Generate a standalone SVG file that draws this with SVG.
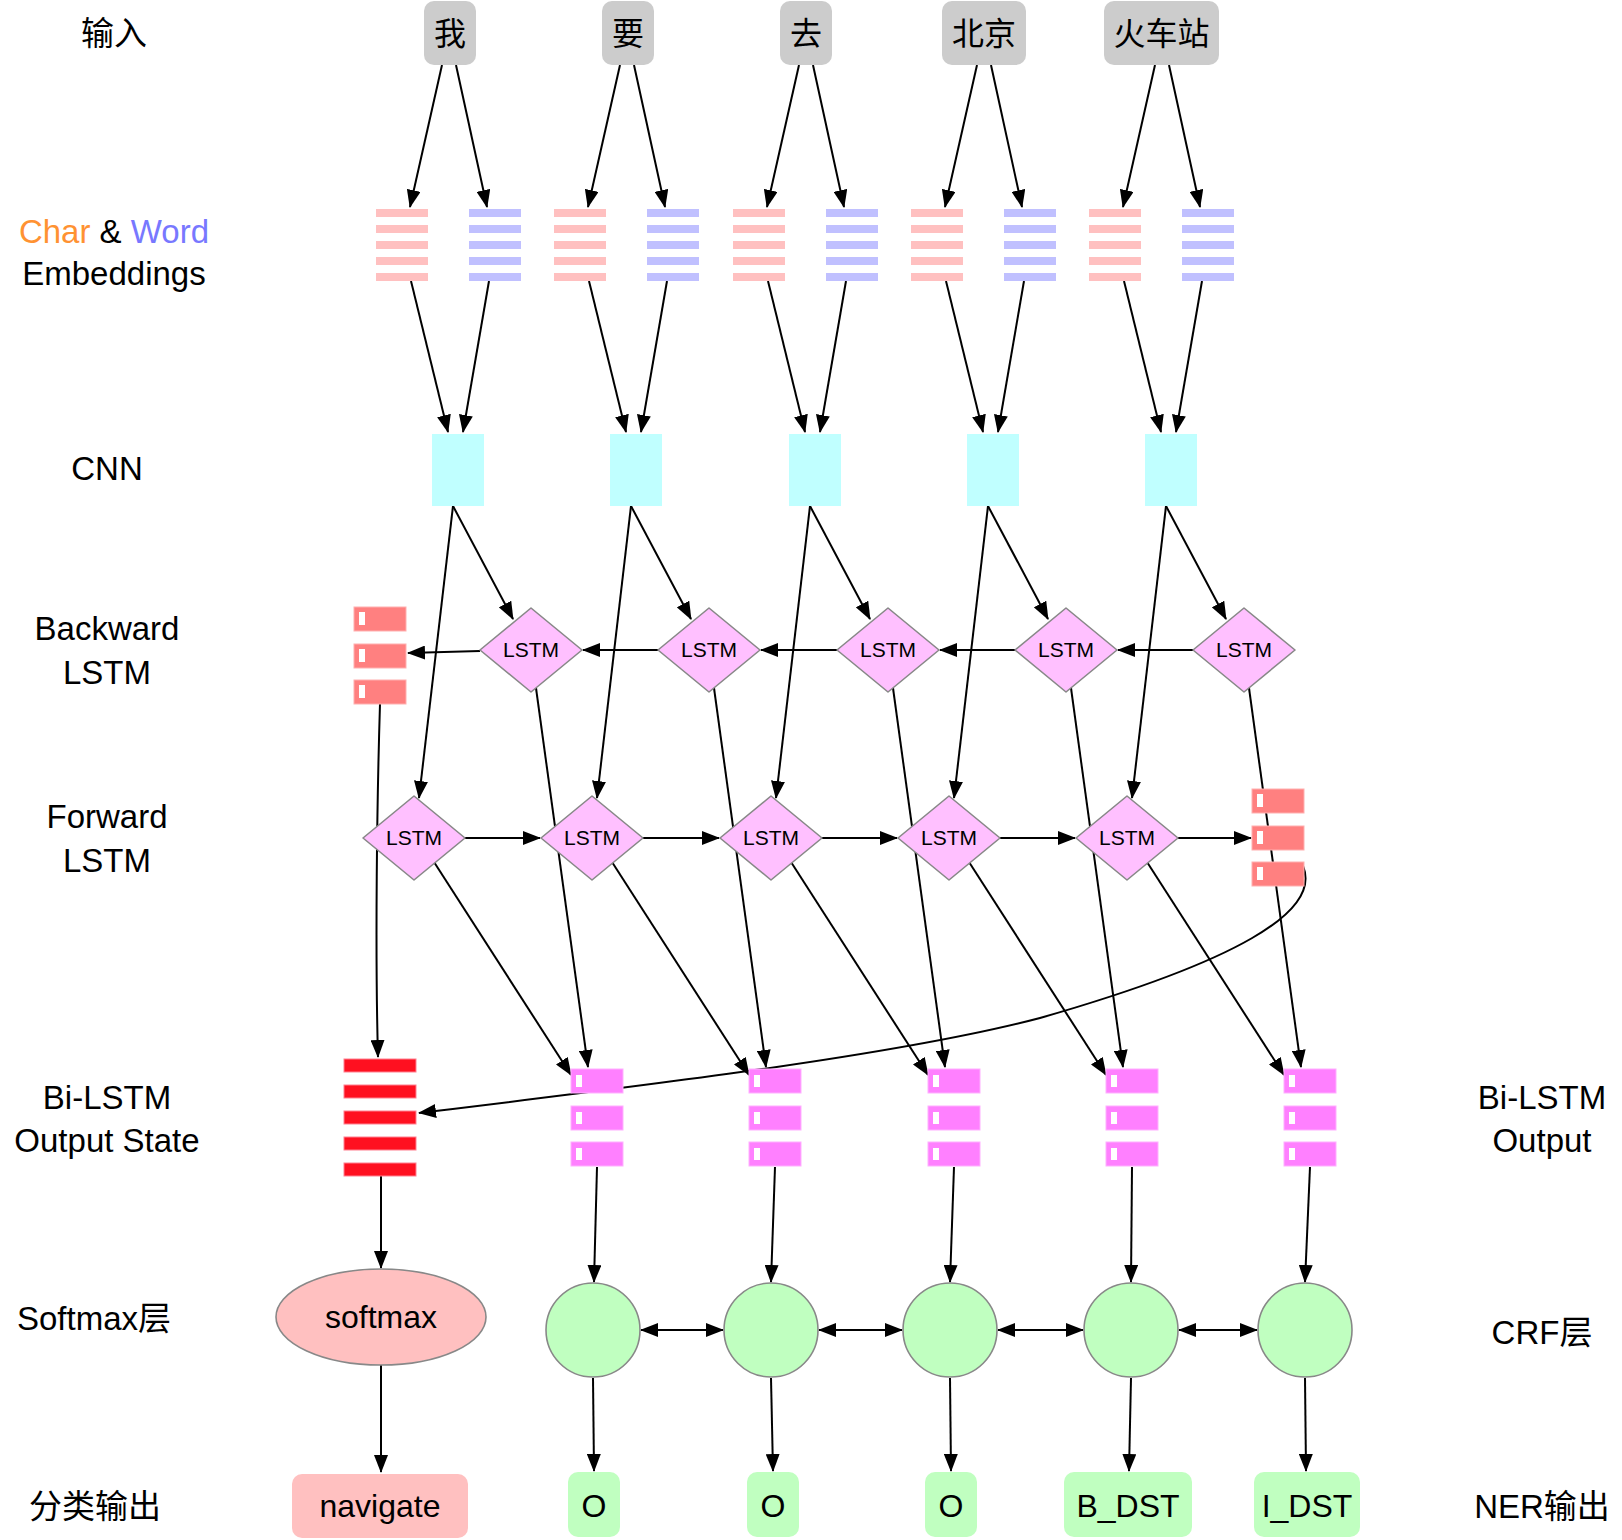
<svg xmlns="http://www.w3.org/2000/svg" width="1622" height="1540" viewBox="0 0 1622 1540">
<style>
text{font-family:"Liberation Sans","Noto Sans CJK SC",sans-serif;fill:#000}
.lbl{font-size:33px;text-anchor:middle}
.tk{font-size:32px;text-anchor:middle}
.ls{font-size:21px;text-anchor:middle}
.top{fill:#cccccc}
.ep{fill:#ffc0c0}
.eb{fill:#c0c0ff}
.cnn{fill:#c0ffff}
.dia{fill:#ffc0ff;stroke:#888;stroke-width:1.6;stroke-linejoin:round}
.rb{fill:#ff8080;stroke:#ffb0b0;stroke-width:1}
.mb{fill:#ff80ff;stroke:#ffb0ff;stroke-width:1}
.sb{fill:#ff1020;stroke:#ff8090;stroke-width:1}
.wt{fill:#fff}
.crf{fill:#c0ffc0;stroke:#888;stroke-width:1.6}
.sm{fill:#ffc0c0;stroke:#888;stroke-width:1.6}
.ob{fill:#c0ffc0}
.nb{fill:#ffc0c0}
.c line,.c path{stroke:#000;stroke-width:2;fill:none;marker-end:url(#ah)}
.c .dbl{marker-start:url(#ah)}
</style>
<defs>
<marker id="ah" markerUnits="userSpaceOnUse" markerWidth="18" markerHeight="14" viewBox="0 0 18 14" refX="17" refY="7" orient="auto-start-reverse"><path d="M0,0 L18,7 L0,14 z" fill="#000"/></marker>
</defs>

<g id="labels">
<text class="lbl" x="114" y="45">输入</text>
<text class="lbl" x="114" y="243"><tspan fill="#ff9232">Char</tspan> &amp; <tspan fill="#7878ff">Word</tspan></text>
<text class="lbl" x="114" y="285">Embeddings</text>
<text class="lbl" x="107" y="480">CNN</text>
<text class="lbl" x="107" y="640">Backward</text>
<text class="lbl" x="107" y="684">LSTM</text>
<text class="lbl" x="107" y="828">Forward</text>
<text class="lbl" x="107" y="872">LSTM</text>
<text class="lbl" x="107" y="1109">Bi-LSTM</text>
<text class="lbl" x="107" y="1152">Output State</text>
<text class="lbl" x="94" y="1330">Softmax层</text>
<text class="lbl" x="95" y="1518">分类输出</text>
<text class="lbl" x="1542" y="1109">Bi-LSTM</text>
<text class="lbl" x="1542" y="1152">Output</text>
<text class="lbl" x="1542" y="1344">CRF层</text>
<text class="lbl" x="1542" y="1518">NER输出</text>
</g>

<g id="connectors" class="c">
<line x1="442" y1="65" x2="410" y2="207"/><line x1="456" y1="65" x2="487" y2="207"/>
<line x1="620" y1="65" x2="588" y2="207"/><line x1="634" y1="65" x2="665" y2="207"/>
<line x1="799" y1="65" x2="767" y2="207"/><line x1="813" y1="65" x2="844" y2="207"/>
<line x1="977" y1="65" x2="945" y2="207"/><line x1="991" y1="65" x2="1022" y2="207"/>
<line x1="1155" y1="65" x2="1123" y2="207"/><line x1="1169" y1="65" x2="1200" y2="207"/>

<line x1="411" y1="281" x2="448" y2="432"/><line x1="489" y1="281" x2="463" y2="432"/>
<line x1="589" y1="281" x2="626" y2="432"/><line x1="667" y1="281" x2="641" y2="432"/>
<line x1="768" y1="281" x2="805" y2="432"/><line x1="846" y1="281" x2="820" y2="432"/>
<line x1="946" y1="281" x2="983" y2="432"/><line x1="1024" y1="281" x2="998" y2="432"/>
<line x1="1124" y1="281" x2="1161" y2="432"/><line x1="1202" y1="281" x2="1176" y2="432"/>

<line x1="453" y1="506" x2="513" y2="619"/><line x1="453" y1="506" x2="419" y2="798"/>
<line x1="631" y1="506" x2="691" y2="619"/><line x1="631" y1="506" x2="597" y2="798"/>
<line x1="810" y1="506" x2="870" y2="619"/><line x1="810" y1="506" x2="776" y2="798"/>
<line x1="988" y1="506" x2="1048" y2="619"/><line x1="988" y1="506" x2="954" y2="798"/>
<line x1="1166" y1="506" x2="1226" y2="619"/><line x1="1166" y1="506" x2="1132" y2="798"/>

<line x1="658" y1="650" x2="583" y2="650"/>
<line x1="837" y1="650" x2="761" y2="650"/>
<line x1="1015" y1="650" x2="940" y2="650"/>
<line x1="1193" y1="650" x2="1118" y2="650"/>
<line x1="480" y1="651" x2="408" y2="653"/>

<line x1="465" y1="838" x2="540" y2="838"/>
<line x1="643" y1="838" x2="719" y2="838"/>
<line x1="822" y1="838" x2="897" y2="838"/>
<line x1="1000" y1="838" x2="1075" y2="838"/>
<line x1="1178" y1="838" x2="1251" y2="838"/>

<line x1="434" y1="862" x2="571" y2="1075"/><line x1="536" y1="688" x2="588" y2="1067"/>
<line x1="612" y1="862" x2="749" y2="1075"/><line x1="714" y1="688" x2="766" y2="1067"/>
<line x1="791" y1="862" x2="928" y2="1075"/><line x1="893" y1="688" x2="945" y2="1067"/>
<line x1="969" y1="862" x2="1106" y2="1075"/><line x1="1071" y1="688" x2="1123" y2="1067"/>
<line x1="1147" y1="862" x2="1284" y2="1075"/><line x1="1249" y1="688" x2="1301" y2="1067"/>

<path d="M380,704 C377,800 375,950 378,1057"/>
<path d="M1303,866 C1322,912 1235,962 1040,1018 C900,1055 650,1085 419,1113"/>

<line x1="381" y1="1176" x2="381" y2="1268"/>
<line x1="381" y1="1365" x2="381" y2="1472"/>

<line x1="597" y1="1167" x2="594" y2="1282"/>
<line x1="775" y1="1167" x2="771" y2="1282"/>
<line x1="954" y1="1167" x2="950" y2="1282"/>
<line x1="1132" y1="1167" x2="1131" y2="1282"/>
<line x1="1310" y1="1167" x2="1305" y2="1282"/>

<line class="dbl" x1="641" y1="1330" x2="723" y2="1330"/>
<line class="dbl" x1="819" y1="1330" x2="902" y2="1330"/>
<line class="dbl" x1="998" y1="1330" x2="1083" y2="1330"/>
<line class="dbl" x1="1179" y1="1330" x2="1257" y2="1330"/>

<line x1="593" y1="1378" x2="594" y2="1471"/>
<line x1="771" y1="1378" x2="773" y2="1471"/>
<line x1="950" y1="1378" x2="951" y2="1471"/>
<line x1="1131" y1="1378" x2="1129" y2="1471"/>
<line x1="1305" y1="1378" x2="1306" y2="1471"/>
</g>

<g id="in-0"><rect class="top" x="424" y="1" width="52" height="64" rx="10"/><text class="tk" x="450" y="45">我</text></g>
<g id="in-1"><rect class="top" x="602" y="1" width="52" height="64" rx="10"/><text class="tk" x="628" y="45">要</text></g>
<g id="in-2"><rect class="top" x="780" y="1" width="52" height="64" rx="10"/><text class="tk" x="806" y="45">去</text></g>
<g id="in-3"><rect class="top" x="942" y="1" width="84" height="64" rx="10"/><text class="tk" x="984" y="45">北京</text></g>
<g id="in-4"><rect class="top" x="1104" y="1" width="115" height="64" rx="10"/><text class="tk" x="1161.5" y="45">火车站</text></g>

<g id="emb-char-0" class="ep"><rect x="376" y="209" width="52" height="8"/><rect x="376" y="225" width="52" height="8"/><rect x="376" y="241" width="52" height="8"/><rect x="376" y="257" width="52" height="8"/><rect x="376" y="273" width="52" height="8"/></g>
<g id="emb-word-0" class="eb"><rect x="469" y="209" width="52" height="8"/><rect x="469" y="225" width="52" height="8"/><rect x="469" y="241" width="52" height="8"/><rect x="469" y="257" width="52" height="8"/><rect x="469" y="273" width="52" height="8"/></g>
<g id="emb-char-1" class="ep"><rect x="554" y="209" width="52" height="8"/><rect x="554" y="225" width="52" height="8"/><rect x="554" y="241" width="52" height="8"/><rect x="554" y="257" width="52" height="8"/><rect x="554" y="273" width="52" height="8"/></g>
<g id="emb-word-1" class="eb"><rect x="647" y="209" width="52" height="8"/><rect x="647" y="225" width="52" height="8"/><rect x="647" y="241" width="52" height="8"/><rect x="647" y="257" width="52" height="8"/><rect x="647" y="273" width="52" height="8"/></g>
<g id="emb-char-2" class="ep"><rect x="733" y="209" width="52" height="8"/><rect x="733" y="225" width="52" height="8"/><rect x="733" y="241" width="52" height="8"/><rect x="733" y="257" width="52" height="8"/><rect x="733" y="273" width="52" height="8"/></g>
<g id="emb-word-2" class="eb"><rect x="826" y="209" width="52" height="8"/><rect x="826" y="225" width="52" height="8"/><rect x="826" y="241" width="52" height="8"/><rect x="826" y="257" width="52" height="8"/><rect x="826" y="273" width="52" height="8"/></g>
<g id="emb-char-3" class="ep"><rect x="911" y="209" width="52" height="8"/><rect x="911" y="225" width="52" height="8"/><rect x="911" y="241" width="52" height="8"/><rect x="911" y="257" width="52" height="8"/><rect x="911" y="273" width="52" height="8"/></g>
<g id="emb-word-3" class="eb"><rect x="1004" y="209" width="52" height="8"/><rect x="1004" y="225" width="52" height="8"/><rect x="1004" y="241" width="52" height="8"/><rect x="1004" y="257" width="52" height="8"/><rect x="1004" y="273" width="52" height="8"/></g>
<g id="emb-char-4" class="ep"><rect x="1089" y="209" width="52" height="8"/><rect x="1089" y="225" width="52" height="8"/><rect x="1089" y="241" width="52" height="8"/><rect x="1089" y="257" width="52" height="8"/><rect x="1089" y="273" width="52" height="8"/></g>
<g id="emb-word-4" class="eb"><rect x="1182" y="209" width="52" height="8"/><rect x="1182" y="225" width="52" height="8"/><rect x="1182" y="241" width="52" height="8"/><rect x="1182" y="257" width="52" height="8"/><rect x="1182" y="273" width="52" height="8"/></g>

<g id="cnn-0"><rect class="cnn" x="432" y="434" width="52" height="72"/></g>
<g id="cnn-1"><rect class="cnn" x="610" y="434" width="52" height="72"/></g>
<g id="cnn-2"><rect class="cnn" x="789" y="434" width="52" height="72"/></g>
<g id="cnn-3"><rect class="cnn" x="967" y="434" width="52" height="72"/></g>
<g id="cnn-4"><rect class="cnn" x="1145" y="434" width="52" height="72"/></g>

<g id="bwd-0"><polygon class="dia" points="480,650 531,608 582,650 531,692"/><text class="ls" x="531" y="657">LSTM</text></g>
<g id="bwd-1"><polygon class="dia" points="658,650 709,608 760,650 709,692"/><text class="ls" x="709" y="657">LSTM</text></g>
<g id="bwd-2"><polygon class="dia" points="837,650 888,608 939,650 888,692"/><text class="ls" x="888" y="657">LSTM</text></g>
<g id="bwd-3"><polygon class="dia" points="1015,650 1066,608 1117,650 1066,692"/><text class="ls" x="1066" y="657">LSTM</text></g>
<g id="bwd-4"><polygon class="dia" points="1193,650 1244,608 1295,650 1244,692"/><text class="ls" x="1244" y="657">LSTM</text></g>

<g id="fwd-0"><polygon class="dia" points="363,838 414,796 465,838 414,880"/><text class="ls" x="414" y="845">LSTM</text></g>
<g id="fwd-1"><polygon class="dia" points="541,838 592,796 643,838 592,880"/><text class="ls" x="592" y="845">LSTM</text></g>
<g id="fwd-2"><polygon class="dia" points="720,838 771,796 822,838 771,880"/><text class="ls" x="771" y="845">LSTM</text></g>
<g id="fwd-3"><polygon class="dia" points="898,838 949,796 1000,838 949,880"/><text class="ls" x="949" y="845">LSTM</text></g>
<g id="fwd-4"><polygon class="dia" points="1076,838 1127,796 1178,838 1127,880"/><text class="ls" x="1127" y="845">LSTM</text></g>

<g id="bwd-out"><rect class="rb" x="354" y="607" width="52" height="24"/><rect class="wt" x="359" y="612" width="6" height="13"/><rect class="rb" x="354" y="644" width="52" height="24"/><rect class="wt" x="359" y="649" width="6" height="13"/><rect class="rb" x="354" y="680" width="52" height="24"/><rect class="wt" x="359" y="685" width="6" height="13"/></g>
<g id="fwd-out"><rect class="rb" x="1252" y="789" width="52" height="24"/><rect class="wt" x="1257" y="794" width="6" height="13"/><rect class="rb" x="1252" y="826" width="52" height="24"/><rect class="wt" x="1257" y="831" width="6" height="13"/><rect class="rb" x="1252" y="862" width="52" height="24"/><rect class="wt" x="1257" y="867" width="6" height="13"/></g>

<g id="state"><rect class="sb" x="344" y="1059" width="72" height="13"/><rect class="sb" x="344" y="1085" width="72" height="13"/><rect class="sb" x="344" y="1111" width="72" height="13"/><rect class="sb" x="344" y="1137" width="72" height="13"/><rect class="sb" x="344" y="1163" width="72" height="13"/></g>

<g id="bi-0"><rect class="mb" x="571" y="1069" width="52" height="24"/><rect class="wt" x="576" y="1075" width="6" height="12"/><rect class="mb" x="571" y="1106" width="52" height="24"/><rect class="wt" x="576" y="1112" width="6" height="12"/><rect class="mb" x="571" y="1142" width="52" height="24"/><rect class="wt" x="576" y="1148" width="6" height="12"/></g>
<g id="bi-1"><rect class="mb" x="749" y="1069" width="52" height="24"/><rect class="wt" x="754" y="1075" width="6" height="12"/><rect class="mb" x="749" y="1106" width="52" height="24"/><rect class="wt" x="754" y="1112" width="6" height="12"/><rect class="mb" x="749" y="1142" width="52" height="24"/><rect class="wt" x="754" y="1148" width="6" height="12"/></g>
<g id="bi-2"><rect class="mb" x="928" y="1069" width="52" height="24"/><rect class="wt" x="933" y="1075" width="6" height="12"/><rect class="mb" x="928" y="1106" width="52" height="24"/><rect class="wt" x="933" y="1112" width="6" height="12"/><rect class="mb" x="928" y="1142" width="52" height="24"/><rect class="wt" x="933" y="1148" width="6" height="12"/></g>
<g id="bi-3"><rect class="mb" x="1106" y="1069" width="52" height="24"/><rect class="wt" x="1111" y="1075" width="6" height="12"/><rect class="mb" x="1106" y="1106" width="52" height="24"/><rect class="wt" x="1111" y="1112" width="6" height="12"/><rect class="mb" x="1106" y="1142" width="52" height="24"/><rect class="wt" x="1111" y="1148" width="6" height="12"/></g>
<g id="bi-4"><rect class="mb" x="1284" y="1069" width="52" height="24"/><rect class="wt" x="1289" y="1075" width="6" height="12"/><rect class="mb" x="1284" y="1106" width="52" height="24"/><rect class="wt" x="1289" y="1112" width="6" height="12"/><rect class="mb" x="1284" y="1142" width="52" height="24"/><rect class="wt" x="1289" y="1148" width="6" height="12"/></g>

<g id="softmax"><ellipse class="sm" cx="381" cy="1317" rx="105" ry="48"/><text class="tk" x="381" y="1328">softmax</text></g>
<g id="crf-0"><circle class="crf" cx="593" cy="1330" r="47"/></g>
<g id="crf-1"><circle class="crf" cx="771" cy="1330" r="47"/></g>
<g id="crf-2"><circle class="crf" cx="950" cy="1330" r="47"/></g>
<g id="crf-3"><circle class="crf" cx="1131" cy="1330" r="47"/></g>
<g id="crf-4"><circle class="crf" cx="1305" cy="1330" r="47"/></g>

<g id="navigate"><rect class="nb" x="292" y="1474" width="176" height="64" rx="10"/><text class="tk" x="380" y="1517">navigate</text></g>
<g id="out-0"><rect class="ob" x="568" y="1472" width="52" height="65" rx="10"/><text class="tk" x="594" y="1517">O</text></g>
<g id="out-1"><rect class="ob" x="747" y="1472" width="52" height="65" rx="10"/><text class="tk" x="773" y="1517">O</text></g>
<g id="out-2"><rect class="ob" x="925" y="1472" width="52" height="65" rx="10"/><text class="tk" x="951" y="1517">O</text></g>
<g id="out-3"><rect class="ob" x="1064" y="1472" width="128" height="65" rx="10"/><text class="tk" x="1128" y="1517">B_DST</text></g>
<g id="out-4"><rect class="ob" x="1254" y="1472" width="106" height="65" rx="10"/><text class="tk" x="1307" y="1517">I_DST</text></g>
</svg>
